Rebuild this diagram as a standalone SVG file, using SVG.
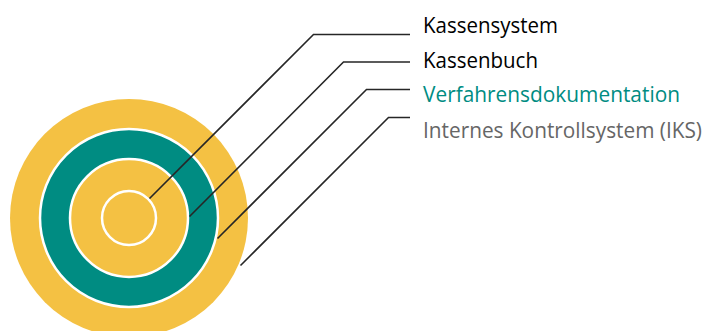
<svg xmlns="http://www.w3.org/2000/svg" width="707" height="331" viewBox="0 0 707 331">
<style>
.lbl{font-family:"Open Sans","Liberation Sans",sans-serif;font-size:21px}
.ring{stroke:#ffffff;stroke-width:2.5}
.conn{fill:none;stroke:#262626;stroke-width:1.6}
</style>
<rect width="707" height="331" fill="#ffffff"/>
<g id="iks"><circle cx="129" cy="218" r="119" fill="#F4C143"/></g>
<g id="verfahrensdokumentation"><circle class="ring" cx="129" cy="218" r="89" fill="#008C82"/></g>
<g id="kassenbuch"><circle class="ring" cx="129" cy="218" r="59" fill="#F4C143"/></g>
<g id="kassensystem"><circle class="ring" cx="129" cy="218" r="27" fill="#F4C143"/></g>
<g id="connectors">
<polyline class="conn" points="149.5,198.5 313.5,34.5 410,34.5"/>
<polyline class="conn" points="189.5,216.5 343.5,62 410,62"/>
<polyline class="conn" points="217.5,238.5 366.5,89.5 410,89.5"/>
<polyline class="conn" points="240.5,265.5 388.5,117.5 410,117.5"/>
</g>
<g id="labels">
<text class="lbl" x="423" y="33" fill="#000000" textLength="135" lengthAdjust="spacingAndGlyphs">Kassensystem</text>
<text class="lbl" x="423" y="68" fill="#000000" textLength="115" lengthAdjust="spacingAndGlyphs">Kassenbuch</text>
<text class="lbl" x="423" y="101.5" fill="#008C82" textLength="257" lengthAdjust="spacingAndGlyphs">Verfahrensdokumentation</text>
<text class="lbl" x="423" y="138" fill="#666666" textLength="279" lengthAdjust="spacingAndGlyphs">Internes Kontrollsystem (IKS)</text>
</g>
</svg>
